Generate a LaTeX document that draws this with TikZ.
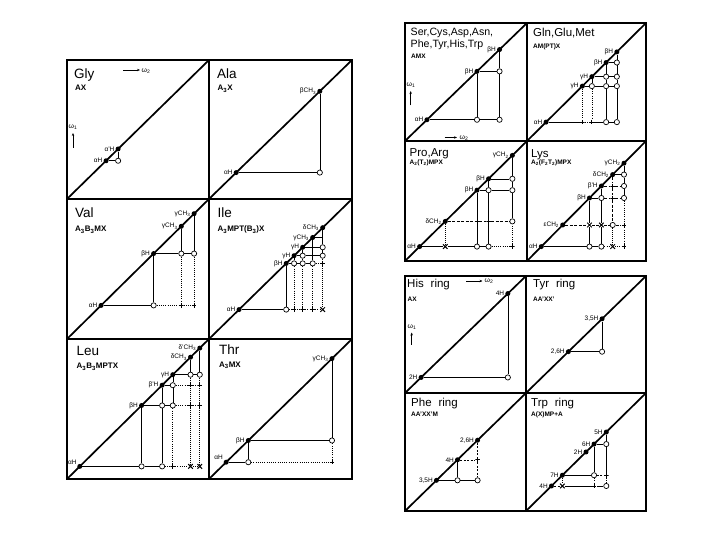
\documentclass[tikz,border=0pt]{standalone}
\usepackage{fontspec}
\setmainfont{Liberation Sans}
\usetikzlibrary{shapes.misc,arrows.meta}
\tikzset{
 bx/.style={line width=1.1pt},
 dg/.style={line width=1.7pt},
 ln/.style={line width=0.55pt},
 dt/.style={line width=0.6pt, dash pattern=on 0.8pt off 1.4pt},
 db/.style={line width=1.1pt, dash pattern=on 1pt off 1pt},
 dp/.style={circle, fill=black, inner sep=0, minimum size=5pt},
 op/.style={circle, draw, fill=white, line width=0.7pt, inner sep=0, minimum size=5.2pt},
 pl/.style={inner sep=0, minimum size=4.6pt, path picture={\draw[line width=0.8pt] (path picture bounding box.north) -- (path picture bounding box.south) (path picture bounding box.west) -- (path picture bounding box.east);}},
 xx/.style={cross out, draw, line width=1pt, inner sep=0, minimum size=3.6pt},
 lab/.style={font=\fontsize{6.5}{6.5}\selectfont, inner sep=0.6pt},
 ttl/.style={font=\fontsize{13.5}{14}\selectfont, anchor=north west, inner sep=0},
 ttls/.style={font=\fontsize{11.5}{12.5}\selectfont, anchor=north west, inner sep=0, align=left},
 sub/.style={font=\fontsize{8}{8}\selectfont\bfseries, anchor=north west, inner sep=0},
 subs/.style={font=\fontsize{6.5}{6.5}\selectfont\bfseries, anchor=north west, inner sep=0},
 ar/.style={line width=0.6pt, -{Stealth[length=3pt,width=2.4pt]}},
 om/.style={font=\fontsize{7}{7}\selectfont, inner sep=0.5pt},
 label distance=0.2pt,
}
\begin{document}
\begin{tikzpicture}[x=1pt,y=1pt]
\useasboundingbox (0,0) rectangle (720,540);
\fill[white] (0,0) rectangle (720,540);

% ---------------- Gly
\begin{scope}[shift={(67,341)},x=142pt,y=139pt]
\draw[bx] (0,0) rectangle (1,1);
\draw[dg] (0,0) -- (1,1);
\node[dp,label={[lab]left:αH}] (gly-a) at (.275,.275) {};
\node[dp,label={[lab]left:α'H}] (gly-b) at (.36,.36) {};
\node[op] (gly-ba) at (.36,.275) {};
\draw[ln] (gly-a) -- (gly-ba) -- (gly-b);
\end{scope}
\node[ttl] (gly-t) at (74,471) {Gly};
\node[sub] (gly-s) at (75,455) {AX};
\coordinate (gly-w2a) at (123,470); \coordinate (gly-w2b) at (140,470);
\draw[ar] (gly-w2a) -- (gly-w2b);
\node[om,anchor=west] (gly-w2) at (141,469) {ω\textsubscript{2}};
\coordinate (gly-w1a) at (73,392); \coordinate (gly-w1b) at (73,407);
\draw[ar] (gly-w1a) -- (gly-w1b);
\node[om,anchor=south] (gly-w1) at (73,410) {ω\textsubscript{1}};

% ---------------- Ala
\begin{scope}[shift={(209,341)},x=143pt,y=139pt]
\draw[bx] (0,0) rectangle (1,1);
\draw[dg] (0,0) -- (1,1);
\node[dp,label={[lab]left:αH}] (ala-a) at (.19,.19) {};
\node[dp,label={[lab]left:βCH\textsubscript{3}}] (ala-b) at (.775,.775) {};
\node[op] (ala-ba) at (.775,.19) {};
\draw[ln] (ala-a) -- (ala-ba) -- (ala-b);
\end{scope}
\node[ttl] (ala-t) at (217,471) {Ala};
\node[sub] (ala-s) at (217.5,455) {A\textsubscript{3}X};

% ---------------- Val
\begin{scope}[shift={(67,201)},x=142pt,y=140pt]
\draw[bx] (0,0) rectangle (1,1);
\draw[dg] (0,0) -- (1,1);
\node[dp,label={[lab]left:αH}] (val-a) at (.24,.24) {};
\node[dp,label={[lab]left:βH}] (val-b) at (.61,.61) {};
\node[dp,label={[lab]left:γCH\textsubscript{3}}] (val-c) at (.805,.805) {};
\node[dp,label={[lab]left:γCH\textsubscript{3}}] (val-d) at (.895,.895) {};
\node[op] (val-ba) at (.61,.24) {};
\node[op] (val-cb) at (.805,.61) {};
\node[op] (val-db) at (.895,.61) {};
\node[pl] (val-ca) at (.805,.24) {};
\node[pl] (val-da) at (.895,.24) {};
\draw[ln] (val-a) -- (val-ba) -- (val-b) -- (val-cb) -- (val-db) (val-c) -- (val-cb) (val-d) -- (val-db);
\draw[dt] (val-ba) -- (val-ca) -- (val-da) (val-cb) -- (val-ca) (val-db) -- (val-da);
\end{scope}
\node[ttl] (val-t) at (75,332) {Val};
\node[sub] (val-s) at (75,314) {A\textsubscript{3}B\textsubscript{3}MX};

% ---------------- Ile
\begin{scope}[shift={(209,201)},x=143pt,y=140pt]
\draw[bx] (0,0) rectangle (1,1);
\draw[dg] (0,0) -- (1,1);
\node[dp,label={[lab]left:αH}] (ile-a) at (.21,.21) {};
\node[dp,label={[lab]left:βH}] (ile-b) at (.54,.54) {};
\node[dp,label={[lab]left:γH}] (ile-c) at (.595,.595) {};
\node[dp,label={[lab]left:γH}] (ile-d) at (.655,.655) {};
\node[dp,label={[lab]left:γCH\textsubscript{3}}] (ile-e) at (.725,.725) {};
\node[dp,label={[lab]left:δCH\textsubscript{3}}] (ile-f) at (.795,.795) {};
\node[op] (ile-ba) at (.54,.21) {};
\node[pl] (ile-ca) at (.595,.21) {};
\node[pl] (ile-da) at (.655,.21) {};
\node[pl] (ile-ea) at (.725,.21) {};
\node[xx] (ile-fa) at (.795,.21) {};
\node[op] (ile-cb) at (.595,.54) {};
\node[op] (ile-db) at (.655,.54) {};
\node[op] (ile-eb) at (.725,.54) {};
\node[pl] (ile-fb) at (.795,.54) {};
\node[op] (ile-dc) at (.655,.595) {};
\node[op] (ile-fc) at (.795,.595) {};
\node[op] (ile-fd) at (.795,.655) {};
\coordinate (ile-fe) at (.795,.725);
\draw[ln] (ile-a) -- (ile-ba) -- (ile-b) -- (ile-cb) -- (ile-db) -- (ile-eb)
  (ile-c) -- (ile-cb) (ile-c) -- (ile-dc) -- (ile-fc) (ile-d) -- (ile-dc) -- (ile-db)
  (ile-d) -- (ile-fd) (ile-e) -- (ile-eb) (ile-e) -- (ile-fe)
  (ile-f) -- (ile-fd) -- (ile-fc);
\draw[dt] (ile-ba) -- (ile-ca) -- (ile-da) -- (ile-ea) -- (ile-fa)
  (ile-cb) -- (ile-ca) (ile-db) -- (ile-da) (ile-eb) -- (ile-ea) (ile-eb) -- (ile-fb);
\draw[db] (ile-fc) -- (ile-fb) -- (ile-fa);
\end{scope}
\node[ttl] (ile-t) at (217.5,332.5) {Ile};
\node[sub] (ile-s) at (217.5,314) {A\textsubscript{3}MPT(B\textsubscript{3})X};

% ---------------- Leu
\begin{scope}[shift={(67,61)},x=142pt,y=140pt]
\draw[bx] (0,0) rectangle (1,1);
\draw[dg] (0,0) -- (1,1);
\node[dp,label={[lab]150:αH}] (leu-a) at (.09,.09) {};
\node[dp,label={[lab]left:βH}] (leu-b) at (.525,.525) {};
\node[dp,label={[lab]left:β'H}] (leu-c) at (.67,.67) {};
\node[dp,label={[lab]left:γH}] (leu-d) at (.745,.745) {};
\node[dp,label={[lab]left:δCH\textsubscript{3}}] (leu-e) at (.87,.87) {};
\node[dp,label={[lab]left:δ'CH\textsubscript{3}}] (leu-f) at (.935,.935) {};
\node[op] (leu-ba) at (.525,.09) {};
\node[op] (leu-ca) at (.67,.09) {};
\node[pl] (leu-da) at (.745,.09) {};
\node[xx] (leu-ea) at (.87,.09) {};
\node[xx] (leu-fa) at (.935,.09) {};
\node[op] (leu-cb) at (.67,.525) {};
\node[op] (leu-db) at (.745,.525) {};
\node[pl] (leu-eb) at (.87,.525) {};
\node[pl] (leu-fb) at (.935,.525) {};
\node[op] (leu-dc) at (.745,.67) {};
\node[pl] (leu-ec) at (.87,.67) {};
\node[pl] (leu-fc) at (.935,.67) {};
\node[op] (leu-ed) at (.87,.745) {};
\node[op] (leu-fd) at (.935,.745) {};
\draw[ln] (leu-a) -- (leu-ba) -- (leu-ca) (leu-b) -- (leu-ba)
  (leu-b) -- (leu-cb) -- (leu-db) (leu-c) -- (leu-cb) -- (leu-ca)
  (leu-c) -- (leu-dc) (leu-d) -- (leu-dc) -- (leu-db)
  (leu-d) -- (leu-ed) -- (leu-fd) (leu-e) -- (leu-ed) (leu-f) -- (leu-fd);
\draw[dt] (leu-ca) -- (leu-da) -- (leu-ea) -- (leu-fa)
  (leu-db) -- (leu-eb) -- (leu-fb) (leu-dc) -- (leu-ec) -- (leu-fc)
  (leu-db) -- (leu-da);
\draw[db] (leu-ed) -- (leu-ec) -- (leu-eb) -- (leu-ea)
  (leu-fd) -- (leu-fc) -- (leu-fb) -- (leu-fa);
\end{scope}
\node[ttl] (leu-t) at (76.5,193.5) {Leu};
\node[sub] (leu-s) at (76.5,177) {A\textsubscript{3}B\textsubscript{3}MPTX};

% ---------------- Thr
\begin{scope}[shift={(209,61)},x=143pt,y=140pt]
\draw[bx] (0,0) rectangle (1,1);
\draw[dg] (0,0) -- (1,1);
\node[dp,label={[lab]150:αH}] (thr-a) at (.12,.12) {};
\node[dp,label={[lab]left:βH}] (thr-b) at (.275,.275) {};
\node[dp,label={[lab]left:γCH\textsubscript{3}}] (thr-c) at (.86,.86) {};
\node[op] (thr-ba) at (.275,.12) {};
\node[op] (thr-cb) at (.86,.275) {};
\node[pl] (thr-ca) at (.86,.12) {};
\draw[ln] (thr-a) -- (thr-ba) -- (thr-b) -- (thr-cb) -- (thr-c);
\draw[dt] (thr-ba) -- (thr-ca) -- (thr-cb);
\end{scope}
\node[ttl] (thr-t) at (219,195) {Thr};
\node[sub] (thr-s) at (219,178.5) {A\textsubscript{3}MX};

% ---------------- Ser
\begin{scope}[shift={(405,399)},x=122pt,y=118pt]
\draw[bx] (0,0) rectangle (1,1);
\draw[dg] (0,0) -- (1,1);
\node[dp,label={[lab]left:αH}] (ser-a) at (.18,.18) {};
\node[dp,label={[lab]left:βH}] (ser-b) at (.59,.59) {};
\node[dp,label={[lab]left:βH}] (ser-c) at (.775,.775) {};
\node[op] (ser-ba) at (.59,.18) {};
\node[op] (ser-ca) at (.775,.18) {};
\node[op] (ser-cb) at (.775,.59) {};
\draw[ln] (ser-a) -- (ser-ba) -- (ser-ca) -- (ser-cb) -- (ser-c)
  (ser-b) -- (ser-ba) (ser-b) -- (ser-cb);
\end{scope}
\node[ttls,font=\fontsize{10.6}{12}\selectfont] (ser-t) at (410.5,512) {Ser,Cys,Asp,Asn,\\Phe,Tyr,His,Trp};
\node[subs] (ser-s) at (411,486) {AMX};
\coordinate (ser-w1a) at (410.7,434.5); \coordinate (ser-w1b) at (410.7,449);
\draw[ar] (ser-w1a) -- (ser-w1b);
\node[om,anchor=south] (ser-w1) at (411,452) {ω\textsubscript{1}};
\coordinate (ser-w2a) at (444.5,402.5); \coordinate (ser-w2b) at (457,402.5);
\draw[ar] (ser-w2a) -- (ser-w2b);
\node[om,anchor=west] (ser-w2) at (459,401.5) {ω\textsubscript{2}};

% ---------------- Gln
\begin{scope}[shift={(527,399)},x=119pt,y=118pt]
\draw[bx] (0,0) rectangle (1,1);
\draw[dg] (0,0) -- (1,1);
\node[dp,label={[lab]left:αH}] (gln-a) at (.16,.16) {};
\node[dp,label={[lab]left:γH}] (gln-b) at (.465,.465) {};
\node[dp,label={[lab]left:γH}] (gln-c) at (.545,.545) {};
\node[dp,label={[lab]left:βH}] (gln-d) at (.665,.665) {};
\node[dp,label={[lab]left:βH}] (gln-e) at (.755,.755) {};
\node[pl] (gln-ba) at (.465,.16) {};
\node[pl] (gln-ca) at (.545,.16) {};
\node[op] (gln-da) at (.665,.16) {};
\node[op] (gln-ea) at (.755,.16) {};
\node[op] (gln-cb) at (.545,.465) {};
\node[op] (gln-db) at (.665,.465) {};
\node[op] (gln-eb) at (.755,.465) {};
\node[op] (gln-dc) at (.665,.545) {};
\node[op] (gln-ec) at (.755,.545) {};
\node[op] (gln-ed) at (.755,.665) {};
\draw[ln] (gln-a) -- (gln-ba) (gln-ca) -- (gln-da) -- (gln-ea)
  (gln-b) -- (gln-cb) -- (gln-db) -- (gln-eb)
  (gln-c) -- (gln-cb) (gln-c) -- (gln-dc) -- (gln-ec)
  (gln-d) -- (gln-dc) -- (gln-db) -- (gln-da) (gln-d) -- (gln-ed)
  (gln-e) -- (gln-ed) -- (gln-ec) -- (gln-eb) -- (gln-ea);
\draw[dt] (gln-ba) -- (gln-ca) (gln-b) -- (gln-ba) (gln-cb) -- (gln-ca);
\end{scope}
\node[ttls] (gln-t) at (533,512) {Gln,Glu,Met};
\node[subs] (gln-s) at (533,496) {AM(PT)X};

% ---------------- Pro
\begin{scope}[shift={(405,279)},x=122pt,y=120pt]
\draw[bx] (0,0) rectangle (1,1);
\draw[dg] (0,0) -- (1,1);
\node[dp,label={[lab]left:αH}] (pro-a) at (.12,.12) {};
\node[dp,label={[lab]left:δCH\textsubscript{2}}] (pro-b) at (.33,.33) {};
\node[dp,label={[lab]left:βH}] (pro-c) at (.59,.59) {};
\node[dp,label={[lab]left:βH}] (pro-d) at (.685,.685) {};
\node[dp,label={[lab]left:γCH\textsubscript{2}}] (pro-e) at (.88,.88) {};
\node[xx] (pro-ba) at (.33,.12) {};
\node[op] (pro-ca) at (.59,.12) {};
\node[op] (pro-da) at (.685,.12) {};
\node[pl] (pro-ea) at (.88,.12) {};
\node[pl] (pro-cb) at (.59,.33) {};
\node[pl] (pro-db) at (.685,.33) {};
\node[op] (pro-eb) at (.88,.33) {};
\node[op] (pro-dc) at (.685,.59) {};
\node[op] (pro-ec) at (.88,.59) {};
\node[op] (pro-ed) at (.88,.685) {};
\draw[ln] (pro-a) -- (pro-ba) -- (pro-ca) -- (pro-da)
  (pro-c) -- (pro-cb) -- (pro-ca) (pro-c) -- (pro-dc) -- (pro-ec)
  (pro-d) -- (pro-dc) -- (pro-db) -- (pro-da) (pro-d) -- (pro-ed)
  (pro-e) -- (pro-ed) -- (pro-ec) -- (pro-eb);
\draw[ln,dash pattern=on 3pt off 1.5pt] (pro-b) -- (pro-cb) -- (pro-db) -- (pro-eb);
\draw[dt] (pro-da) -- (pro-ea) -- (pro-eb);
\draw[db] (pro-b) -- (pro-ba);
\end{scope}
\node[ttls] (pro-t) at (409.5,392) {Pro,Arg};
\node[subs] (pro-s) at (409.5,380.5) {A\textsubscript{2}(T\textsubscript{2})MPX};

% ---------------- Lys
\begin{scope}[shift={(527,279)},x=119pt,y=120pt]
\draw[bx] (0,0) rectangle (1,1);
\draw[dg] (0,0) -- (1,1);
\node[dp,label={[lab]left:αH}] (lys-a) at (.12,.12) {};
\node[dp,label={[lab]left:εCH\textsubscript{2}}] (lys-b) at (.30,.30) {};
\node[dp,label={[lab]left:βH}] (lys-c) at (.525,.525) {};
\node[dp,label={[lab]left:β'H}] (lys-d) at (.625,.625) {};
\node[dp,label={[lab]left:δCH\textsubscript{2}}] (lys-e) at (.72,.72) {};
\node[dp,label={[lab]left:γCH\textsubscript{2}}] (lys-f) at (.815,.815) {};
\node[op] (lys-ca) at (.525,.12) {};
\node[op] (lys-da) at (.625,.12) {};
\node[xx] (lys-ea) at (.72,.12) {};
\node[pl] (lys-fa) at (.815,.12) {};
\node[xx] (lys-cb) at (.525,.30) {};
\node[xx] (lys-db) at (.625,.30) {};
\node[op] (lys-eb) at (.72,.30) {};
\node[pl] (lys-fb) at (.815,.30) {};
\node[op] (lys-dc) at (.625,.525) {};
\node[pl] (lys-ec) at (.72,.525) {};
\node[op] (lys-fc) at (.815,.525) {};
\node[pl] (lys-ed) at (.72,.625) {};
\node[op] (lys-fd) at (.815,.625) {};
\node[op] (lys-fe) at (.815,.72) {};
\draw[ln] (lys-a) -- (lys-ca) -- (lys-da)
  (lys-c) -- (lys-cb) -- (lys-ca) (lys-c) -- (lys-dc)
  (lys-d) -- (lys-dc) -- (lys-db) -- (lys-da)
  (lys-e) -- (lys-fe) (lys-f) -- (lys-fe) -- (lys-fd) -- (lys-fc);
\draw[ln,dash pattern=on 3pt off 1.5pt] (lys-b) -- (lys-cb) -- (lys-db) -- (lys-eb) -- (lys-fb)
  (lys-dc) -- (lys-ec) -- (lys-fc) (lys-d) -- (lys-ed) -- (lys-fd)
  (lys-e) -- (lys-ed) -- (lys-ec) -- (lys-eb);
\draw[dt] (lys-da) -- (lys-ea) -- (lys-fa) (lys-fc) -- (lys-fb) -- (lys-fa);
\draw[db] (lys-eb) -- (lys-ea);
\end{scope}
\node[ttls] (lys-t) at (531,390.5) {Lys};
\node[subs] (lys-s) at (531,380.5) {A\textsubscript{2}(F\textsubscript{2}T\textsubscript{2})MPX};

% ---------------- His ring
\begin{scope}[shift={(405,147)},x=121pt,y=117pt]
\draw[bx] (0,0) rectangle (1,1);
\draw[dg] (0,0) -- (1,1);
\node[dp,label={[lab]left:2H}] (his-a) at (.133,.133) {};
\node[dp,label={[lab]left:4H}] (his-b) at (.85,.85) {};
\node[op] (his-ba) at (.85,.133) {};
\draw[ln] (his-a) -- (his-ba) -- (his-b);
\end{scope}
\node[ttls] (his-t) at (407,261) {His\hspace{0.6em}ring};
\node[subs] (his-s) at (407.5,243) {AX};
\coordinate (his-w2a) at (466,259); \coordinate (his-w2b) at (482.5,259);
\draw[ar] (his-w2a) -- (his-w2b);
\node[om,anchor=west] (his-w2) at (484,259) {ω\textsubscript{2}};
\coordinate (his-w1a) at (411.7,195); \coordinate (his-w1b) at (411.7,207.5);
\draw[ar] (his-w1a) -- (his-w1b);
\node[om,anchor=south] (his-w1) at (412,210) {ω\textsubscript{1}};

% ---------------- Tyr ring
\begin{scope}[shift={(526,147)},x=120pt,y=117pt]
\draw[bx] (0,0) rectangle (1,1);
\draw[dg] (0,0) -- (1,1);
\node[dp,label={[lab]left:2,6H}] (tyr-a) at (.353,.353) {};
\node[dp,label={[lab]left:3,5H}] (tyr-b) at (.634,.634) {};
\node[op] (tyr-ba) at (.634,.353) {};
\draw[ln] (tyr-a) -- (tyr-ba) -- (tyr-b);
\end{scope}
\node[ttls] (tyr-t) at (533,261) {Tyr\hspace{0.6em}ring};
\node[subs] (tyr-s) at (533,243) {AA'XX'};

% ---------------- Phe ring
\begin{scope}[shift={(405,29)},x=121pt,y=118pt]
\draw[bx] (0,0) rectangle (1,1);
\draw[dg] (0,0) -- (1,1);
\node[dp,label={[lab]left:3,5H}] (phe-a) at (.26,.26) {};
\node[dp,label={[lab]left:4H}] (phe-b) at (.434,.434) {};
\node[dp,label={[lab]left:2,6H}] (phe-c) at (.60,.60) {};
\node[op] (phe-ba) at (.434,.26) {};
\node[op] (phe-ca) at (.60,.26) {};
\node[pl] (phe-cb) at (.60,.434) {};
\draw[ln] (phe-a) -- (phe-ba) -- (phe-ca) (phe-b) -- (phe-ba);
\draw[ln,dash pattern=on 2pt off 1.5pt] (phe-b) -- (phe-cb) (phe-c) -- (phe-cb) -- (phe-ca);
\end{scope}
\node[ttls] (phe-t) at (411,142) {Phe\hspace{0.6em}ring};
\node[subs] (phe-s) at (411,128.5) {AA'XX'M};

% ---------------- Trp ring
\begin{scope}[shift={(526,29)},x=120pt,y=118pt]
\draw[bx] (0,0) rectangle (1,1);
\draw[dg] (0,0) -- (1,1);
\node[dp,label={[lab]left:4H}] (trp-a) at (.212,.212) {};
\node[dp,label={[lab]left:7H}] (trp-b) at (.303,.303) {};
\node[dp,label={[lab]left:2H}] (trp-c) at (.50,.50) {};
\node[dp,label={[lab]left:6H}] (trp-d) at (.567,.567) {};
\node[dp,label={[lab]left:5H}] (trp-e) at (.669,.669) {};
\node[xx] (trp-ba) at (.303,.212) {};
\node[pl] (trp-da) at (.567,.212) {};
\node[op] (trp-ea) at (.669,.212) {};
\node[op] (trp-db) at (.567,.303) {};
\node[pl] (trp-eb) at (.669,.303) {};
\node[op] (trp-ed) at (.669,.567) {};
\draw[ln] (trp-ba) -- (trp-da) -- (trp-ea) (trp-b) -- (trp-db)
  (trp-d) -- (trp-db) (trp-d) -- (trp-ed) (trp-e) -- (trp-ed) -- (trp-eb);
\draw[ln,dash pattern=on 2pt off 1.5pt] (trp-a) -- (trp-ba) (trp-db) -- (trp-eb);
\draw[dt] (trp-b) -- (trp-ba) (trp-db) -- (trp-da) (trp-eb) -- (trp-ea);
\end{scope}
\node[ttls] (trp-t) at (531,142) {Trp\hspace{0.6em}ring};
\node[subs] (trp-s) at (531,128.5) {A(X)MP+A};
\end{tikzpicture}
\end{document}
